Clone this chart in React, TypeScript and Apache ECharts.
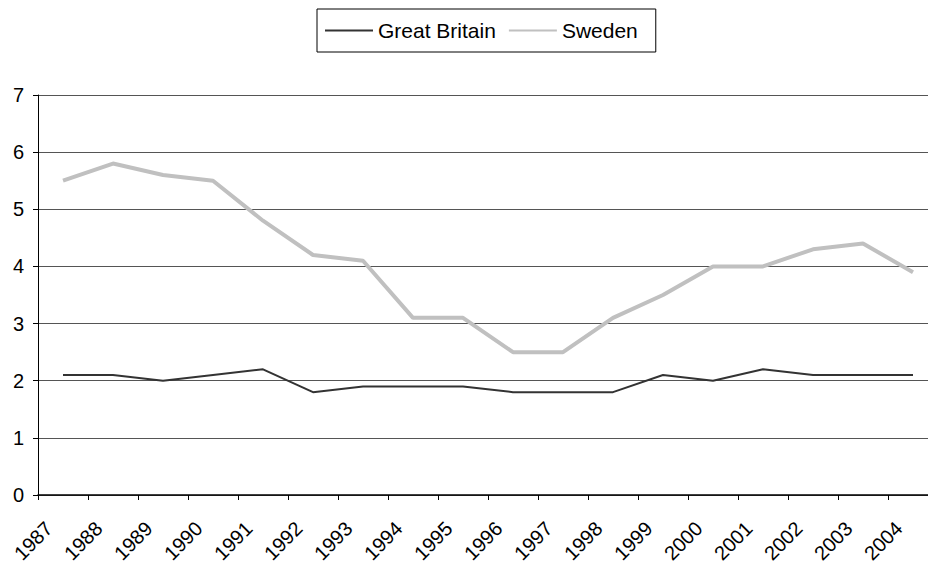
import React, { useEffect, useRef } from 'react';
import * as echarts from 'echarts';

const years = ['1987', '1988', '1989', '1990', '1991', '1992', '1993', '1994', '1995', '1996', '1997', '1998', '1999', '2000', '2001', '2002', '2003', '2004'];
const greatBritain = [2.1, 2.1, 2.0, 2.1, 2.2, 1.8, 1.9, 1.9, 1.9, 1.8, 1.8, 1.8, 2.1, 2.0, 2.2, 2.1, 2.1, 2.1];
const sweden = [5.5, 5.8, 5.6, 5.5, 4.8, 4.2, 4.1, 3.1, 3.1, 2.5, 2.5, 3.1, 3.5, 4.0, 4.0, 4.3, 4.4, 3.9];
const seriesNames = ['Great Britain', 'Sweden'];

const FONT = '"Liberation Sans", Arial, sans-serif';

export default function App() {
  const ref = useRef<HTMLDivElement>(null);
  useEffect(() => {
    const chart = echarts.init(ref.current!, null, { renderer: 'svg' });
    chart.setOption({
      animation: false,
      backgroundColor: '#ffffff',
      textStyle: { fontFamily: FONT, color: '#000' },
      legend: {
        data: seriesNames,
        left: 317,
        top: 9,
        itemWidth: 48,
        itemHeight: 14,
        itemGap: 12,
        borderColor: '#000',
        borderWidth: 1,
        padding: [11, 18, 11, 7],
        itemStyle: { opacity: 0 },
        textStyle: { fontSize: 21, color: '#000', fontFamily: FONT },
      },
      grid: { left: 38, top: 95, right: 22, bottom: 68, containLabel: false, outerBoundsMode: 'none' },
      xAxis: {
        type: 'category',
        data: years,
        boundaryGap: true,
        axisLine: { lineStyle: { color: '#000', width: 1.5 } },
        axisTick: { show: true, length: 5, lineStyle: { color: '#000' }, alignWithLabel: false },
        axisLabel: {
          rotate: 45,
          fontSize: 20,
          color: '#000',
          fontFamily: FONT,
          margin: 30,
          interval: 0,
          verticalAlign: 'bottom',
          padding: [0, 10, 0, 0],
        },
        splitLine: { show: false },
      },
      yAxis: {
        type: 'value',
        min: 0,
        max: 7,
        interval: 1,
        axisLine: { show: true, lineStyle: { color: '#000', width: 1 } },
        axisTick: { show: true, length: 5, lineStyle: { color: '#000' } },
        axisLabel: { fontSize: 20, color: '#000', fontFamily: FONT, margin: 14 },
        splitLine: { show: true, lineStyle: { color: '#555', width: 1 } },
      },
      series: [
        {
          name: seriesNames[0],
          type: 'line',
          data: greatBritain,
          symbol: 'none',
          lineStyle: { color: '#333333', width: 2 },
          itemStyle: { color: '#333333' },
          z: 3,
        },
        {
          name: seriesNames[1],
          type: 'line',
          data: sweden,
          symbol: 'none',
          lineStyle: { color: '#c0c0c0', width: 4 },
          itemStyle: { color: '#c0c0c0' },
          z: 2,
        },
      ],
    });
    return () => chart.dispose();
  }, []);
  return (
    <div style={{ position: 'fixed', left: 0, top: 0, width: 928, height: 563, overflow: 'hidden', background: '#fff' }}>
      <div ref={ref} style={{ width: 960, height: 563 }} />
    </div>
  );
}
